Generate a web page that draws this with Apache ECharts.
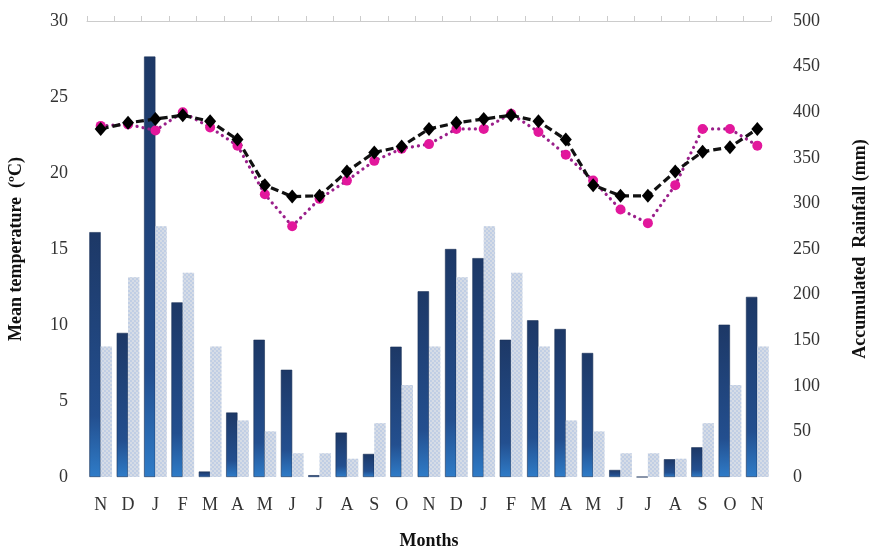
<!DOCTYPE html>
<html>
<head>
<meta charset="utf-8">
<script src="https://cdn.jsdelivr.net/npm/echarts@6/dist/echarts.min.js"></script>
<style>html,body{margin:0;padding:0;background:#fff}#c{width:869px;height:550px}</style>
</head>
<body>
<div id="c"></div>
<script>
const months = ['N','D','J','F','M','A','M','J','J','A','S','O','N','D','J','F','M','A','M','J','J','A','S','O','N'];
const rainfall = [268.5,158,461,191.5,6,70.7,150.5,117.6,2,48.7,25.3,142.9,203.6,250,240,150.5,171.8,162.3,136,7.7,0,19.5,32.6,167,197.5];
const rainfallMean = [143,219,275,224,143,62,50,26,26,20,59,101,143,219,275,224,143,62,50,26,26,20,59,101,143];
const tempMean = [22.9,23.3,23.55,23.8,23.4,22.2,19.2,18.45,18.5,20.1,21.35,21.75,22.9,23.3,23.55,23.8,23.4,22.2,19.2,18.5,18.5,20.1,21.4,21.7,22.9];
const tempPeriod = [23.1,23.2,22.8,24.0,23.0,21.8,18.6,16.5,18.3,19.5,20.8,21.6,21.9,22.9,22.9,23.9,22.7,21.2,19.5,17.6,16.7,19.2,22.9,22.9,21.8];
const leftTicks = [0,5,10,15,20,25,30];
const rightTicks = [0,50,100,150,200,250,300,350,400,450,500];

const serif = 'Liberation Serif';
const chart = echarts.init(document.getElementById('c'), null, {renderer:'canvas'});
chart.setOption({
  animation: false,
  backgroundColor: '#fff',
  textStyle: {fontFamily: serif},
  grid: {left: 87, right: 98, top: 21, bottom: 73, containLabel: false, outerBoundsMode: 'none'},
  xAxis: [{
    type: 'category', data: months, position: 'bottom',
    axisLine: {show: false}, axisTick: {show: false},
    axisLabel: {fontFamily: serif, fontSize: 18, color: '#333', margin: 19},
    name: 'Months', nameLocation: 'middle', nameGap: 55,
    nameTextStyle: {fontFamily: serif, fontSize: 18, fontWeight: 'bold', color: '#111'}
  },{
    type: 'category', data: months, position: 'top',
    axisLine: {show: true, onZero: false, lineStyle: {color: '#cccccc', width: 1}},
    axisTick: {show: true, length: 5, lineStyle: {color: '#cccccc'}},
    axisLabel: {show: false}
  }],
  yAxis: [{
    type: 'value', min: leftTicks[0], max: leftTicks[leftTicks.length-1], interval: 5, position: 'left',
    splitLine: {show: false}, axisLine: {show: false}, axisTick: {show: false},
    axisLabel: {fontFamily: serif, fontSize: 18, color: '#333', margin: 19},
    name: 'Mean temperature  (ºC)', nameLocation: 'middle', nameRotate: 90, nameGap: 62,
    nameTextStyle: {fontFamily: serif, fontSize: 18, fontWeight: 'bold', color: '#111'}
  },{
    type: 'value', min: rightTicks[0], max: rightTicks[rightTicks.length-1], interval: 50, position: 'right',
    splitLine: {show: false}, axisLine: {show: false}, axisTick: {show: false},
    axisLabel: {fontFamily: serif, fontSize: 18, color: '#333', margin: 22},
    name: 'Accumulated  Rainfall (mm)', nameLocation: 'middle', nameRotate: 90, nameGap: 80,
    nameTextStyle: {fontFamily: serif, fontSize: 18, fontWeight: 'bold', color: '#111'}
  }],
  series: [{
    type: 'bar', data: rainfall, xAxisIndex: 0, yAxisIndex: 1,
    barGap: '0%', barCategoryGap: '17%',
    itemStyle: {
      color: new echarts.graphic.LinearGradient(0,0,0,1,[
        {offset: 0, color: '#1d3866'},
        {offset: 0.75, color: '#234f8f'},
        {offset: 1, color: '#2f7cc8'}
      ]),
      borderColor: '#1a3058', borderWidth: 0.6
    }
  },{
    type: 'bar', data: rainfallMean, xAxisIndex: 0, yAxisIndex: 1,
    itemStyle: {
      color: '#d6dce6',
      decal: {symbol: 'rect', symbolSize: 1, color: 'rgba(175,195,228,0.55)', dashArrayX: [[2,2],[0,2,2,0]], dashArrayY: [2,0]}
    }
  },{
    type: 'line', data: tempPeriod, xAxisIndex: 0, yAxisIndex: 0,
    symbol: 'circle', symbolSize: 10,
    itemStyle: {color: '#e2179c'},
    lineStyle: {color: '#9a1f8a', width: 3.2, type: [0.1, 6], cap: 'round'}
  },{
    type: 'line', data: tempMean, xAxisIndex: 0, yAxisIndex: 0,
    symbol: 'diamond', symbolSize: [12, 14],
    itemStyle: {color: '#000'},
    lineStyle: {color: '#111', width: 3.2, type: [8, 4]}
  }]
});
</script>
</body>
</html>
